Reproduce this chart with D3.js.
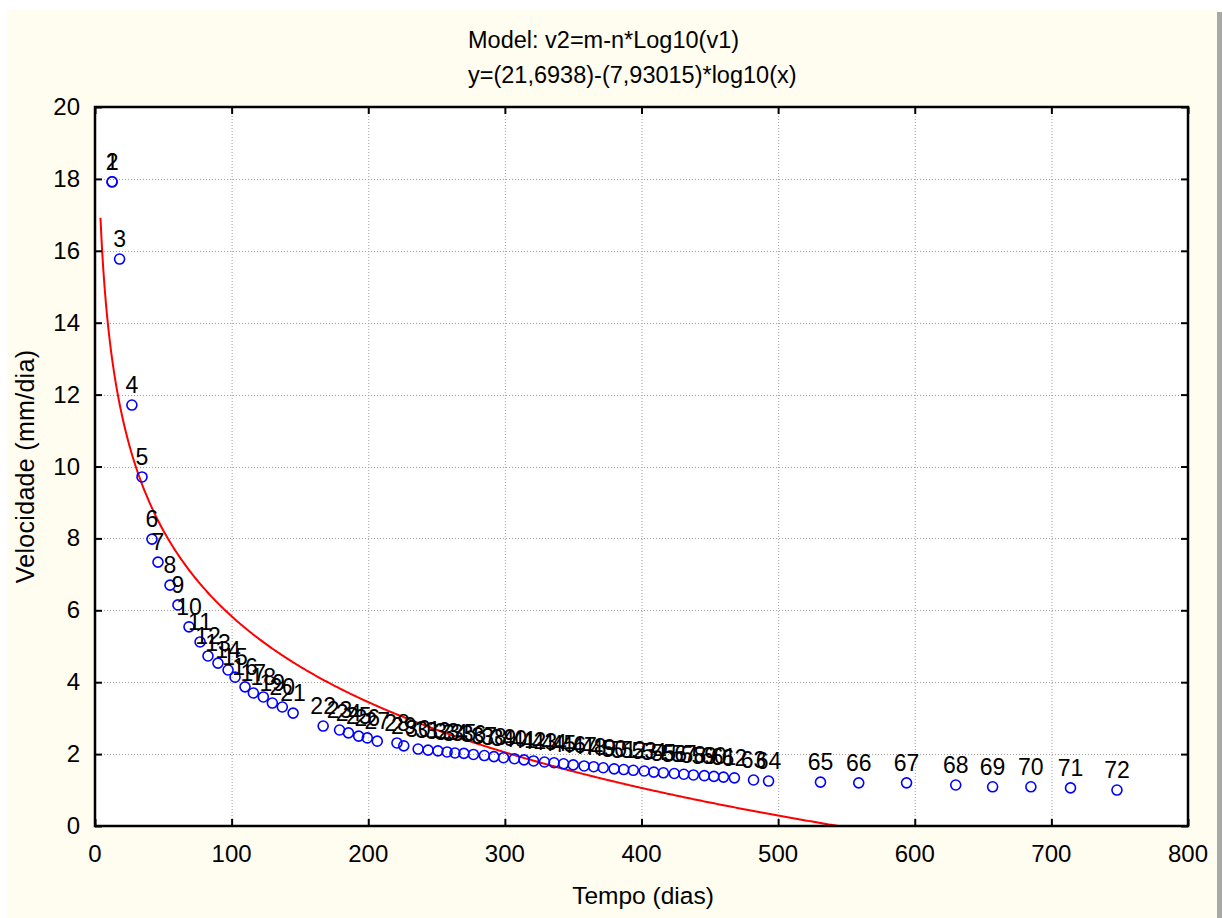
<!DOCTYPE html>
<html>
<head>
<meta charset="utf-8">
<script src="https://cdn.jsdelivr.net/npm/d3@7/dist/d3.min.js"></script>
<style>
  body { margin: 0; background: #ffffff; }
  text { font-family: "Liberation Sans", Arial, sans-serif; }
</style>
</head>
<body>
<script>
// titles
const titleLines = ["Model: v2=m-n*Log10(v1)", "y=(21,6938)-(7,93015)*log10(x)"];
const xLabel = "Tempo (dias)";
const yLabel = "Velocidade (mm/dia)";

// observations (case number = position + 1)
const tempo = [12.5, 12.5, 18, 27, 34.4, 41.7, 46.1, 54.9, 60.7, 68.8,
  76.9, 82.7, 90, 97.4, 102.5, 109.8, 115.9, 123.2, 129.8, 137.1,
  145, 167, 179, 185.5, 193, 199.3, 206.6, 221, 226, 236.5,
  243.8, 251, 257.7, 263.5, 270, 277, 285, 292, 299, 307,
  314, 321, 329, 336, 343, 350, 358, 365, 372, 380,
  387, 394, 402, 409, 416, 424, 431, 438, 446, 453,
  460, 468, 482, 493, 531, 559, 594, 630, 657, 685,
  714, 748];
const velocidade = [17.92, 17.92, 15.77, 11.71, 9.71, 7.98, 7.34, 6.70, 6.15, 5.54,
  5.12, 4.73, 4.53, 4.34, 4.14, 3.87, 3.70, 3.59, 3.42, 3.31,
  3.14, 2.78, 2.67, 2.59, 2.50, 2.45, 2.36, 2.31, 2.23, 2.14,
  2.11, 2.09, 2.06, 2.03, 2.02, 1.99, 1.96, 1.93, 1.90, 1.87,
  1.84, 1.81, 1.78, 1.76, 1.73, 1.70, 1.67, 1.65, 1.62, 1.59,
  1.57, 1.55, 1.53, 1.50, 1.48, 1.46, 1.44, 1.42, 1.40, 1.38,
  1.36, 1.34, 1.28, 1.25, 1.22, 1.20, 1.20, 1.14, 1.09, 1.09,
  1.06, 1.00];
const caseIds = tempo.map((d, i) => String(i + 1));

// fitted model, coefficients as printed in the title
const mCoef = 21.6938;
const nCoef = 7.93015;
const fitStart = 4;

const xTicks = [0, 100, 200, 300, 400, 500, 600, 700, 800];
const yTicks = [0, 2, 4, 6, 8, 10, 12, 14, 16, 18, 20];

const W = 1222, H = 918;
const plotL = 95, plotR = 1188, plotT = 107, plotB = 826;

const svg = d3.select("body").append("svg")
  .attr("width", W).attr("height", H);

// panel background + shadow on the right
svg.append("rect").attr("x", 7).attr("y", 10).attr("width", 1210).attr("height", H - 10)
  .attr("fill", "#fffcf0");
svg.append("rect").attr("x", 1217).attr("y", 12).attr("width", 5).attr("height", H - 12)
  .attr("fill", "#a8a8a8");

const x = d3.scaleLinear().domain([0, 800]).range([plotL, plotR]);
const y = d3.scaleLinear().domain([0, 20]).range([plotB, plotT]);

// plot area
svg.append("rect").attr("x", plotL).attr("y", plotT)
  .attr("width", plotR - plotL).attr("height", plotB - plotT).attr("fill", "#ffffff");

svg.append("clipPath").attr("id", "plotClip").append("rect")
  .attr("x", plotL).attr("y", plotT).attr("width", plotR - plotL).attr("height", plotB - plotT);

// dotted grid
const grid = svg.append("g").attr("stroke", "#a0a0a0").attr("stroke-width", 1)
  .attr("stroke-dasharray", "1,2");
grid.selectAll(".gx").data(xTicks.slice(1, -1)).enter().append("line")
  .attr("x1", d => x(d) + 0.5).attr("x2", d => x(d) + 0.5)
  .attr("y1", plotT).attr("y2", plotB);
grid.selectAll(".gy").data(yTicks.slice(1, -1)).enter().append("line")
  .attr("y1", d => Math.round(y(d)) + 0.5).attr("y2", d => Math.round(y(d)) + 0.5)
  .attr("x1", plotL).attr("x2", plotR);

// fit curve
const fitXs = d3.range(fitStart, 800, 1);
const line = d3.line()
  .x(d => x(d))
  .y(d => y(mCoef - nCoef * Math.log10(d)));
svg.append("path").datum(fitXs)
  .attr("clip-path", "url(#plotClip)")
  .attr("fill", "none").attr("stroke", "#ff0000").attr("stroke-width", 2)
  .attr("d", line);

// points
const pts = tempo.map((t, i) => ({ t: t, v: velocidade[i], id: caseIds[i] }));
svg.append("g").selectAll("circle").data(pts).enter().append("circle")
  .attr("cx", d => x(d.t)).attr("cy", d => y(d.v)).attr("r", 5)
  .attr("fill", "none").attr("stroke", "#0000ff").attr("stroke-width", 1.6);

svg.append("g").selectAll("text").data(pts).enter().append("text")
  .attr("x", d => x(d.t)).attr("y", d => y(d.v) - 12)
  .attr("text-anchor", "middle").attr("font-size", 23).attr("fill", "#000")
  .text(d => d.id);

// frame with inward ticks
const tickLen = 7;
const axB = d3.axisTop(x).tickValues(xTicks).tickSize(tickLen).tickFormat("");
const axT = d3.axisBottom(x).tickValues(xTicks).tickSize(tickLen).tickFormat("");
const axL = d3.axisRight(y).tickValues(yTicks).tickSize(tickLen).tickFormat("");
const axR = d3.axisLeft(y).tickValues(yTicks).tickSize(tickLen).tickFormat("");
[[axB, `translate(0,${plotB})`], [axT, `translate(0,${plotT})`],
 [axL, `translate(${plotL},0)`], [axR, `translate(${plotR},0)`]].forEach(([ax, tr]) => {
  const g = svg.append("g").attr("transform", tr).call(ax);
  g.select(".domain").remove();
  g.selectAll("line").attr("stroke", "#000").attr("stroke-width", 2);
});
svg.append("rect").attr("x", plotL).attr("y", plotT)
  .attr("width", plotR - plotL).attr("height", plotB - plotT)
  .attr("fill", "none").attr("stroke", "#000").attr("stroke-width", 2.5);

// tick labels
svg.append("g").selectAll("text").data(xTicks).enter().append("text")
  .attr("x", d => x(d)).attr("y", 862)
  .attr("text-anchor", "middle").attr("font-size", 24).text(d => d);
svg.append("g").selectAll("text").data(yTicks).enter().append("text")
  .attr("x", 80).attr("y", d => y(d) + 8)
  .attr("text-anchor", "end").attr("font-size", 24).text(d => d);

// titles
svg.append("g").selectAll("text").data(titleLines).enter().append("text")
  .attr("x", 468).attr("y", (d, i) => 48 + i * 35)
  .attr("font-size", 23.5).text(d => d);

svg.append("text").attr("x", 643).attr("y", 904)
  .attr("text-anchor", "middle").attr("font-size", 24.5).text(xLabel);
svg.append("text")
  .attr("transform", `translate(34,${(plotT + plotB) / 2}) rotate(-90)`)
  .attr("text-anchor", "middle").attr("font-size", 25).attr("letter-spacing", 0.3)
  .text(yLabel);
</script>
</body>
</html>
